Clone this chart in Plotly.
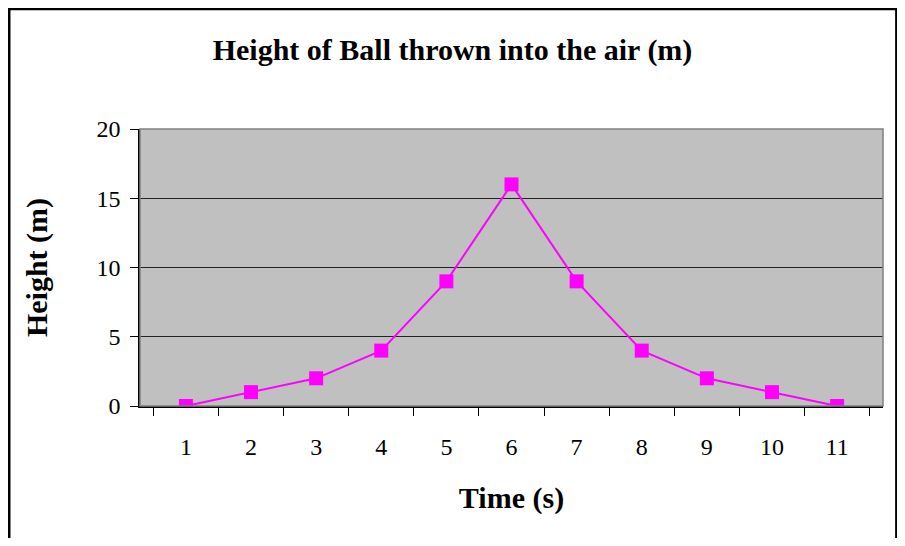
import plotly.graph_objects as go

time_s = ["1", "2", "3", "4", "5", "6", "7", "8", "9", "10", "11"]
height_m = [0, 1, 2, 4, 9, 16, 9, 4, 2, 1, 0]

SERIF = "Liberation Serif, Times New Roman, serif"

fig = go.Figure()

fig.add_trace(go.Scatter(
    x=time_s, y=height_m,
    mode="lines+markers",
    line=dict(color="#FF00FF", width=2),
    marker=dict(symbol="square", size=14, color="#FF00FF"),
    showlegend=False
))

# plot area border (grey) and outer chart border (black)
fig.add_shape(type="rect", xref="paper", yref="paper", x0=0, x1=1, y0=0, y1=1,
              line=dict(color="#808080", width=1.5), layer="above")
fig.add_shape(type="rect", xref="paper", yref="paper",
              x0=-0.176, x1=1.018, y0=-0.7, y1=1.433,
              line=dict(color="black", width=2.5))

# page body has an 8px margin, so keep the figure inside the window
fig.update_layout(
    width=889, height=530,
    margin=dict(l=132, r=14, t=121, b=132),
    paper_bgcolor="white",
    plot_bgcolor="#C0C0C0",
    font=dict(family=SERIF, color="black", size=24),
    title=dict(text="<b>Height of Ball thrown into the air (m)</b>",
               x=0.5, xanchor="center", y=0.921, yanchor="middle",
               font=dict(size=30, family=SERIF)),
    xaxis=dict(
        type="category", tickson="boundaries",
        showgrid=False, showline=True, linecolor="black", linewidth=1.5,
        ticks="outside", ticklen=8, tickcolor="black",
        ticklabelstandoff=18,
        title=dict(text="<b>Time (s)</b>", font=dict(size=30), standoff=28),
    ),
    yaxis=dict(
        range=[0, 20], dtick=5,
        showgrid=True, gridcolor="#222222", gridwidth=1,
        showline=True, linecolor="black", linewidth=1.5,
        ticks="outside", ticklen=8, tickcolor="black",
        ticklabelstandoff=5, zeroline=False,
        title=dict(text="<b>Height (m)</b>", font=dict(size=30), standoff=40),
    ),
)

fig.write_html("out.html")
